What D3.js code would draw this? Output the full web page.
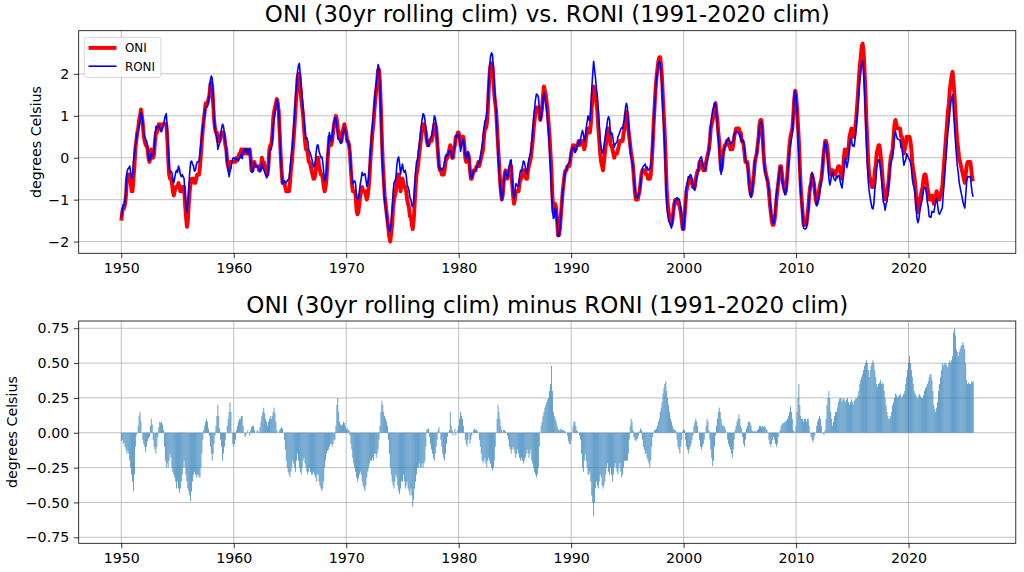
<!DOCTYPE html>
<html><head><meta charset="utf-8">
<script src="https://cdn.jsdelivr.net/npm/d3@7"></script>
<style>body{margin:0;background:#fff} svg text{font-family:"DejaVu Sans",sans-serif;fill:#000}</style>
</head><body><svg id="c" width="1024" height="572"></svg>
<script>
// ---------------- data ----------------
const startYear = 1950;           // first month: Jan 1950, monthly (3-month running) values
const topTitle = "ONI (30yr rolling clim) vs. RONI (1991-2020 clim)";
const bottomTitle = "ONI (30yr rolling clim) minus RONI (1991-2020 clim)";
const yLabel = "degrees Celsius";
const seriesNames = ["ONI", "RONI"];
const xTicks = [1950, 1960, 1970, 1980, 1990, 2000, 2010, 2020];
const yTicksTop = [-2, -1, 0, 1, 2];
const yTicksBottom = [-0.75, -0.5, -0.25, 0, 0.25, 0.5, 0.75];

// ONI (30yr rolling climatology), one row per year
const oni = [
-1.5,-1.3,-1.2,-1.2,-1.1,-0.9,-0.5,-0.4,-0.4,-0.4,-0.6,-0.8,
-0.8,-0.5,-0.2,0.2,0.4,0.6,0.7,0.9,1.0,1.15,1.0,0.8,
0.5,0.4,0.3,0.3,0.2,0.0,-0.1,0.0,0.2,0.1,0.0,0.1,
0.4,0.6,0.6,0.7,0.8,0.8,0.7,0.7,0.8,0.8,0.8,0.8,
0.8,0.5,0.0,-0.4,-0.5,-0.5,-0.6,-0.8,-0.9,-0.8,-0.7,-0.7,
-0.7,-0.6,-0.7,-0.8,-0.8,-0.7,-0.7,-0.7,-1.1,-1.4,-1.65,-1.5,
-1.1,-0.8,-0.6,-0.5,-0.5,-0.5,-0.6,-0.6,-0.5,-0.4,-0.4,-0.4,
-0.2,0.1,0.4,0.7,0.9,1.1,1.3,1.3,1.3,1.4,1.5,1.75,
1.8,1.7,1.3,0.9,0.7,0.6,0.6,0.4,0.4,0.4,0.5,0.6,
0.6,0.6,0.5,0.3,0.2,-0.1,-0.2,-0.3,-0.1,-0.1,-0.1,-0.1,
-0.1,-0.1,-0.1,0.0,0.0,0.0,0.1,0.1,0.2,0.1,0.2,0.2,
0.1,0.2,0.2,0.1,0.2,0.2,0.0,-0.3,-0.3,-0.2,-0.1,-0.2,
-0.2,-0.2,-0.2,-0.3,-0.3,-0.2,0.0,-0.1,-0.1,-0.2,-0.3,-0.4,
-0.4,-0.2,0.2,0.3,0.3,0.5,0.9,1.1,1.2,1.3,1.4,1.3,
1.1,0.6,0.1,-0.3,-0.6,-0.6,-0.6,-0.7,-0.8,-0.8,-0.8,-0.8,
-0.6,-0.3,-0.1,0.2,0.5,0.8,1.2,1.5,1.9,2.0,2.0,1.7,
1.4,1.2,1.0,0.7,0.4,0.2,0.2,0.1,-0.1,-0.1,-0.2,-0.3,
-0.4,-0.5,-0.5,-0.4,-0.2,0.0,0.0,-0.2,-0.3,-0.4,-0.4,-0.5,
-0.7,-0.8,-0.7,-0.5,-0.1,0.2,0.5,0.4,0.3,0.4,0.6,0.8,
0.9,1.0,0.9,0.7,0.6,0.5,0.4,0.4,0.6,0.7,0.8,0.7,
0.6,0.4,0.4,0.3,0.1,-0.3,-0.6,-0.8,-0.8,-0.8,-0.9,-1.25,
-1.35,-1.3,-1.1,-0.9,-0.8,-0.7,-0.8,-0.8,-0.8,-0.9,-1.0,-0.9,
-0.7,-0.4,0.0,0.3,0.6,0.8,1.1,1.4,1.6,1.8,2.1,2.1,
1.8,1.2,0.5,-0.1,-0.5,-0.9,-1.1,-1.3,-1.5,-1.7,-1.9,-2.0,
-1.8,-1.6,-1.2,-1.0,-0.9,-0.8,-0.5,-0.4,-0.4,-0.6,-0.8,-0.6,
-0.5,-0.6,-0.7,-0.7,-0.8,-1.0,-1.1,-1.2,-1.4,-1.4,-1.6,-1.7,
-1.5,-1.1,-0.7,-0.4,-0.3,-0.1,0.1,0.3,0.5,0.7,0.8,0.8,
0.7,0.6,0.4,0.3,0.3,0.4,0.4,0.4,0.5,0.6,0.8,0.8,
0.7,0.4,0.1,-0.2,-0.3,-0.3,-0.4,-0.4,-0.4,-0.3,-0.1,0.0,
0.0,0.1,0.2,0.3,0.2,0.0,0.0,0.2,0.3,0.5,0.5,0.6,
0.6,0.5,0.3,0.4,0.5,0.5,0.3,0.0,-0.1,0.0,0.1,0.0,
-0.3,-0.5,-0.5,-0.4,-0.3,-0.3,-0.3,-0.2,-0.2,-0.1,-0.2,-0.1,
0.0,0.1,0.2,0.5,0.7,0.7,0.8,1.1,1.6,2.0,2.2,2.25,
2.2,1.9,1.5,1.3,1.1,0.7,0.3,-0.1,-0.5,-0.8,-1.0,-0.9,
-0.6,-0.4,-0.3,-0.4,-0.5,-0.4,-0.3,-0.2,-0.2,-0.6,-0.9,-1.1,
-1.0,-0.8,-0.8,-0.8,-0.8,-0.6,-0.5,-0.5,-0.4,-0.3,-0.3,-0.4,
-0.5,-0.5,-0.3,-0.2,-0.1,0.0,0.2,0.4,0.7,0.9,1.1,1.2,
1.2,1.2,1.1,0.9,1.0,1.2,1.5,1.7,1.6,1.5,1.3,1.1,
0.8,0.5,0.1,-0.3,-0.9,-1.3,-1.3,-1.1,-1.2,-1.5,-1.85,-1.85,
-1.7,-1.4,-1.1,-0.8,-0.6,-0.4,-0.3,-0.3,-0.2,-0.2,-0.2,-0.1,
0.1,0.2,0.3,0.3,0.2,0.2,0.3,0.3,0.4,0.3,0.4,0.4,
0.4,0.3,0.2,0.3,0.5,0.6,0.7,0.6,0.6,0.8,1.2,1.5,
1.7,1.6,1.5,1.3,1.1,0.7,0.4,0.1,-0.1,-0.2,-0.3,-0.1,
0.1,0.3,0.5,0.7,0.7,0.6,0.3,0.3,0.2,0.1,0.0,0.1,
0.1,0.1,0.2,0.3,0.4,0.4,0.4,0.4,0.6,0.7,1.0,1.1,
1.0,0.7,0.5,0.3,0.1,0.0,-0.2,-0.5,-0.8,-1.0,-1.0,-1.0,
-0.9,-0.8,-0.6,-0.4,-0.3,-0.3,-0.3,-0.3,-0.4,-0.4,-0.5,-0.5,
-0.5,-0.4,-0.1,0.3,0.8,1.2,1.6,1.9,2.1,2.3,2.4,2.4,
2.2,1.9,1.4,1.0,0.5,-0.1,-0.8,-1.1,-1.3,-1.4,-1.5,-1.6,
-1.5,-1.3,-1.1,-1.0,-1.0,-1.0,-1.1,-1.1,-1.2,-1.3,-1.5,-1.7,
-1.7,-1.4,-1.1,-0.8,-0.7,-0.6,-0.6,-0.5,-0.5,-0.6,-0.7,-0.7,
-0.7,-0.5,-0.4,-0.3,-0.3,-0.1,-0.1,-0.1,-0.2,-0.3,-0.3,-0.3,
-0.1,0.0,0.1,0.2,0.4,0.7,0.8,0.9,1.0,1.2,1.3,1.1,
0.9,0.6,0.4,0.0,-0.3,-0.2,0.1,0.2,0.3,0.3,0.4,0.4,
0.4,0.3,0.2,0.2,0.2,0.3,0.5,0.6,0.7,0.7,0.7,0.7,
0.6,0.6,0.4,0.4,0.3,0.1,-0.1,-0.1,-0.1,-0.3,-0.6,-0.8,
-0.9,-0.8,-0.6,-0.4,-0.1,0.0,0.1,0.3,0.5,0.8,0.9,0.9,
0.7,0.2,-0.1,-0.3,-0.4,-0.5,-0.6,-0.8,-1.1,-1.3,-1.5,-1.6,
-1.6,-1.5,-1.3,-1.0,-0.8,-0.6,-0.4,-0.2,-0.2,-0.4,-0.6,-0.7,
-0.8,-0.8,-0.6,-0.3,0.0,0.3,0.5,0.6,0.7,1.0,1.4,1.6,
1.5,1.2,0.8,0.4,-0.2,-0.7,-1.0,-1.3,-1.6,-1.6,-1.6,-1.6,
-1.4,-1.2,-0.9,-0.7,-0.6,-0.4,-0.5,-0.6,-0.8,-1.0,-1.1,-1.0,
-0.9,-0.7,-0.6,-0.5,-0.3,0.0,0.2,0.4,0.4,0.3,0.1,-0.2,
-0.4,-0.4,-0.3,-0.3,-0.4,-0.4,-0.4,-0.3,-0.3,-0.2,-0.2,-0.3,
-0.4,-0.5,-0.3,0.0,0.2,0.2,0.0,0.1,0.2,0.5,0.6,0.7,
0.5,0.5,0.5,0.7,0.9,1.2,1.5,1.9,2.2,2.4,2.65,2.72,
2.55,2.1,1.6,0.9,0.4,-0.1,-0.4,-0.5,-0.6,-0.7,-0.7,-0.6,
-0.3,-0.2,0.1,0.2,0.3,0.3,0.1,-0.1,-0.4,-0.7,-0.8,-1.0,
-0.9,-0.9,-0.7,-0.5,-0.2,0.0,0.1,0.2,0.5,0.8,0.9,0.8,
0.7,0.7,0.7,0.7,0.5,0.5,0.3,0.1,0.2,0.3,0.5,0.5,
0.5,0.5,0.4,0.2,-0.1,-0.3,-0.4,-0.6,-0.9,-1.2,-1.3,-1.2,
-1.0,-0.9,-0.8,-0.7,-0.5,-0.4,-0.4,-0.5,-0.7,-0.8,-1.0,-1.0,
-1.0,-0.9,-1.0,-1.1,-1.0,-0.9,-0.8,-0.9,-1.0,-1.0,-0.9,-0.8,
-0.7,-0.4,-0.1,0.2,0.5,0.8,1.1,1.3,1.6,1.8,1.95,2.05,
1.8,1.5,1.1,0.7,0.4,0.2,0.0,-0.1,-0.2,-0.3,-0.4,-0.5,
-0.6,-0.4,-0.2,-0.1,-0.1,-0.1,-0.1,-0.3,-0.5,-0.56
];

// ONI minus RONI, one row per year
const diff = [
-0.06,-0.05,-0.08,-0.07,-0.10,-0.12,-0.15,-0.13,-0.15,-0.20,-0.25,-0.30,
-0.35,-0.42,-0.30,-0.10,-0.02,0.00,0.05,0.12,0.15,0.08,0.00,-0.05,
-0.08,-0.10,-0.14,-0.10,-0.06,-0.04,-0.03,0.05,0.10,0.06,-0.05,-0.10,
-0.12,-0.15,-0.10,-0.03,0.04,0.08,0.07,0.08,0.06,0.02,-0.10,-0.20,
-0.25,-0.22,-0.25,-0.20,-0.15,-0.18,-0.25,-0.28,-0.30,-0.32,-0.35,-0.40,
-0.35,-0.40,-0.43,-0.40,-0.35,-0.30,-0.25,-0.20,-0.25,-0.30,-0.35,-0.40,
-0.42,-0.45,-0.49,-0.42,-0.35,-0.30,-0.28,-0.30,-0.32,-0.30,-0.30,-0.32,
-0.32,-0.25,-0.15,-0.05,0.02,0.05,0.08,0.10,0.08,0.03,-0.02,-0.10,
-0.15,-0.20,-0.15,-0.08,-0.02,0.05,0.12,0.20,0.12,0.03,-0.05,-0.10,
-0.20,-0.15,-0.10,-0.05,0.00,0.05,0.10,0.15,0.22,0.15,0.00,-0.08,
-0.10,-0.08,-0.05,0.02,0.05,0.08,0.10,0.10,0.12,0.12,0.05,0.00,
-0.03,-0.02,0.00,0.02,0.00,-0.02,0.02,0.04,0.05,0.05,0.02,0.00,
0.00,0.02,0.01,0.00,0.04,0.08,0.12,0.15,0.18,0.14,0.10,0.08,
0.05,0.08,0.10,0.12,0.10,0.12,0.15,0.18,0.14,0.08,0.02,0.00,
0.00,0.02,0.03,0.04,0.03,0.00,-0.05,-0.12,-0.20,-0.25,-0.28,-0.30,
-0.32,-0.28,-0.25,-0.20,-0.22,-0.25,-0.28,-0.20,-0.15,-0.20,-0.25,-0.28,
-0.30,-0.25,-0.20,-0.18,-0.22,-0.25,-0.28,-0.30,-0.28,-0.25,-0.28,-0.30,
-0.30,-0.28,-0.30,-0.32,-0.35,-0.30,-0.30,-0.35,-0.38,-0.40,-0.42,-0.40,
-0.35,-0.25,-0.20,-0.15,-0.13,-0.12,-0.10,-0.08,-0.08,-0.10,-0.08,-0.05,
-0.05,0.05,0.20,0.25,0.15,0.08,0.06,0.05,0.06,0.08,0.07,0.05,
0.03,0.03,0.02,0.02,-0.02,-0.08,-0.12,-0.18,-0.22,-0.25,-0.28,-0.32,
-0.35,-0.33,-0.30,-0.28,-0.30,-0.35,-0.38,-0.40,-0.42,-0.38,-0.32,-0.28,
-0.25,-0.22,-0.20,-0.20,-0.18,-0.20,-0.15,-0.15,-0.18,-0.15,-0.12,-0.05,
0.05,0.15,0.23,0.20,0.15,0.12,0.10,0.08,0.05,-0.05,-0.15,-0.25,
-0.30,-0.35,-0.38,-0.40,-0.35,-0.30,-0.32,-0.38,-0.42,-0.44,-0.40,-0.35,
-0.35,-0.30,-0.35,-0.40,-0.38,-0.35,-0.40,-0.42,-0.45,-0.40,-0.45,-0.53,
-0.48,-0.40,-0.35,-0.30,-0.25,-0.25,-0.22,-0.25,-0.25,-0.22,-0.25,-0.22,
-0.20,-0.10,0.02,0.03,0.03,-0.03,-0.08,-0.12,-0.15,-0.18,-0.20,-0.15,
-0.10,-0.05,0.02,0.04,0.00,-0.05,-0.10,-0.15,-0.18,-0.20,-0.15,-0.08,
-0.03,0.00,0.02,0.15,0.05,0.02,-0.02,0.00,0.03,-0.02,0.00,0.02,
0.05,0.10,0.15,0.12,0.10,0.05,0.00,-0.05,-0.08,-0.10,-0.05,0.00,
-0.08,-0.05,-0.02,0.00,0.02,0.03,0.02,0.02,0.01,0.00,-0.05,-0.10,
-0.15,-0.20,-0.22,-0.20,-0.18,-0.22,-0.25,-0.20,-0.18,-0.20,-0.22,-0.25,
-0.27,-0.25,-0.20,-0.10,0.00,0.10,0.20,0.15,0.10,0.05,0.02,0.00,
0.02,0.02,0.01,0.00,-0.02,-0.05,-0.10,-0.12,-0.15,-0.12,-0.10,-0.12,
-0.15,-0.18,-0.15,-0.12,-0.15,-0.18,-0.20,-0.18,-0.20,-0.22,-0.20,-0.18,
-0.15,-0.12,-0.15,-0.18,-0.15,-0.12,-0.20,-0.22,-0.25,-0.28,-0.30,-0.32,
-0.30,-0.25,-0.10,0.00,0.05,0.08,0.12,0.15,0.18,0.20,0.22,0.24,
0.25,0.30,0.35,0.48,0.30,0.15,0.12,0.10,0.08,0.05,0.03,0.02,
0.02,0.03,0.02,0.02,0.02,0.01,0.01,0.00,-0.02,-0.06,-0.08,-0.08,
-0.05,0.00,0.05,0.08,0.08,0.05,0.02,0.01,0.00,-0.02,-0.05,-0.15,
-0.25,-0.28,-0.20,-0.15,-0.20,-0.25,-0.30,-0.30,-0.28,-0.35,-0.45,-0.50,
-0.60,-0.50,-0.40,-0.35,-0.38,-0.40,-0.35,-0.30,-0.32,-0.38,-0.40,-0.38,
-0.35,-0.30,-0.25,-0.22,-0.28,-0.30,-0.25,-0.30,-0.35,-0.30,-0.25,-0.22,
-0.25,-0.28,-0.30,-0.25,-0.22,-0.28,-0.32,-0.30,-0.25,-0.20,-0.20,-0.20,
-0.20,-0.15,-0.05,0.05,0.10,0.08,0.02,-0.03,-0.05,-0.06,-0.05,-0.04,
-0.02,0.01,0.03,0.02,-0.05,-0.10,-0.12,-0.15,-0.15,-0.18,-0.20,-0.22,
-0.25,-0.20,-0.10,-0.03,0.00,0.02,0.02,0.03,0.05,0.08,0.10,0.15,
0.18,0.22,0.28,0.32,0.35,0.37,0.30,0.25,0.20,0.15,0.10,0.08,
0.05,0.03,0.02,0.02,0.01,-0.05,-0.10,-0.12,-0.15,-0.10,-0.05,0.01,
0.02,0.02,-0.05,-0.10,-0.12,-0.15,-0.12,-0.10,-0.08,-0.05,-0.02,0.05,
0.08,0.10,0.08,0.05,0.00,-0.05,-0.10,-0.12,-0.10,-0.08,-0.05,0.00,
0.05,0.10,0.08,0.02,-0.05,-0.12,-0.18,-0.24,-0.20,-0.10,-0.02,0.05,
0.10,0.15,0.18,0.15,0.10,0.06,0.05,0.05,0.04,0.02,0.00,-0.05,
-0.08,-0.10,-0.12,-0.15,-0.18,-0.12,-0.05,0.02,0.05,0.08,0.10,0.13,
0.10,0.05,0.03,-0.03,-0.08,-0.10,-0.05,0.03,0.05,0.08,0.08,0.07,
0.05,0.02,0.01,0.01,0.01,0.01,0.01,0.02,0.03,0.05,0.05,0.04,
0.05,0.04,0.05,0.04,0.03,0.02,0.00,-0.05,-0.08,-0.10,-0.08,-0.05,
-0.03,-0.05,-0.08,-0.10,-0.08,-0.03,0.00,0.02,0.05,0.06,0.07,0.07,
0.08,0.08,0.09,0.10,0.12,0.15,0.19,0.15,0.10,0.02,0.01,0.00,
0.05,0.15,0.25,0.35,0.20,0.12,0.10,0.10,0.08,0.10,0.10,0.08,
0.10,0.10,0.05,0.00,-0.03,-0.05,-0.07,-0.05,-0.02,0.00,0.05,0.08,
0.10,0.12,0.10,0.05,0.00,-0.01,-0.01,0.02,0.10,0.20,0.25,0.30,
0.25,0.15,0.10,0.05,0.08,0.12,0.15,0.15,0.18,0.22,0.24,0.25,
0.25,0.22,0.24,0.25,0.23,0.22,0.24,0.25,0.22,0.20,0.22,0.24,
0.22,0.20,0.23,0.24,0.25,0.25,0.27,0.30,0.35,0.38,0.40,0.42,
0.45,0.48,0.50,0.52,0.50,0.45,0.40,0.45,0.48,0.50,0.52,0.50,
0.45,0.40,0.35,0.33,0.35,0.36,0.38,0.35,0.36,0.35,0.30,0.25,
0.20,0.15,0.12,0.10,0.10,0.12,0.15,0.20,0.22,0.25,0.28,0.27,
0.25,0.26,0.27,0.28,0.26,0.25,0.27,0.28,0.30,0.35,0.40,0.45,
0.50,0.55,0.50,0.45,0.40,0.35,0.30,0.28,0.27,0.25,0.25,0.27,
0.28,0.26,0.25,0.25,0.27,0.30,0.32,0.33,0.35,0.37,0.40,0.42,
0.42,0.38,0.30,0.20,0.17,0.15,0.18,0.22,0.30,0.35,0.40,0.45,
0.50,0.48,0.50,0.49,0.50,0.48,0.47,0.50,0.52,0.50,0.52,0.55,
0.72,0.75,0.70,0.60,0.58,0.55,0.58,0.60,0.62,0.63,0.65,0.63,
0.60,0.50,0.38,0.35,0.36,0.35,0.35,0.37,0.36,0.37
];

// ---------------- derived ----------------
const time = oni.map((_, i) => startYear + i / 12);
const roni = oni.map((v, i) => v - diff[i]);   // RONI = ONI - (ONI minus RONI)

// ---------------- layout ----------------
const svg = d3.select("#c");
svg.append("rect").attr("width", 1024).attr("height", 572).attr("fill", "#fff");
const L = 78.7, R = 1015.8;
const tExt = d3.extent(time), pad = (tExt[1] - tExt[0]) * 0.05;
const x = d3.scaleLinear().domain([tExt[0] - pad, tExt[1] + pad]).range([L, R]);

const panels = [
  {top: 30.7, bottom: 253.3, domain: [-2.28, 3.03], ticks: yTicksTop, fmt: d => (d < 0 ? "\u2212" : "") + Math.abs(d), title: topTitle, ylabX: 41},
  {top: 321, bottom: 543.3, domain: [-0.793, 0.802], ticks: yTicksBottom, fmt: d => (d < 0 ? "\u2212" : "") + Math.abs(d).toFixed(2), title: bottomTitle, ylabX: 17.3}
];
panels.forEach(p => { p.y = d3.scaleLinear().domain(p.domain).range([p.bottom, p.top]); });

function drawFrame(p, g) {
  g.append("g").selectAll("line").data(xTicks).join("line")
    .attr("x1", d => x(d)).attr("x2", d => x(d)).attr("y1", p.top).attr("y2", p.bottom)
    .attr("stroke", "#b0b0b0").attr("stroke-width", 0.8);
  g.append("g").selectAll("line").data(p.ticks).join("line")
    .attr("x1", L).attr("x2", R).attr("y1", d => p.y(d)).attr("y2", d => p.y(d))
    .attr("stroke", "#b0b0b0").attr("stroke-width", 0.8);
}
function drawAxes(p, g) {
  const ax = g.append("g").attr("transform", `translate(0,${p.bottom})`)
    .call(d3.axisBottom(x).tickValues(xTicks).tickFormat(d3.format("d")).tickSize(4.9).tickPadding(4.6));
  const ay = g.append("g").attr("transform", `translate(${L},0)`)
    .call(d3.axisLeft(p.y).tickValues(p.ticks).tickFormat(p.fmt).tickSize(4.9).tickPadding(4.6));
  [ax, ay].forEach(a => {
    a.select(".domain").remove();
    a.selectAll("line").attr("stroke", "#000").attr("stroke-width", 0.8);
    a.selectAll("text").style("font-family", '"DejaVu Sans", sans-serif').style("font-size", "14.2px").attr("fill", "#000");
  });
  g.append("rect").attr("x", L).attr("y", p.top).attr("width", R - L).attr("height", p.bottom - p.top)
    .attr("fill", "none").attr("stroke", "#000").attr("stroke-width", 0.8);
  g.append("text").attr("x", (L + R) / 2).attr("y", p.top - 8.3).attr("text-anchor", "middle")
    .style("font-size", "23px").text(p.title);
  g.append("text").attr("transform", `translate(${p.ylabX},${(p.top + p.bottom) / 2}) rotate(-90)`)
    .attr("text-anchor", "middle").style("font-size", "14.2px").text(yLabel);
}

// ---- top panel ----
const p1 = panels[0];
const g1 = svg.append("g");
drawFrame(p1, g1);
svg.append("clipPath").attr("id", "clip1").append("rect")
  .attr("x", L).attr("y", p1.top).attr("width", R - L).attr("height", p1.bottom - p1.top);
const line1 = d3.line().x((d, i) => x(time[i])).y(d => p1.y(d));
g1.append("path").datum(oni).attr("d", line1).attr("fill", "none").attr("stroke", "#ff0000")
  .attr("stroke-width", 3.9).attr("stroke-linejoin", "round").attr("stroke-linecap", "butt").attr("clip-path", "url(#clip1)");
g1.append("path").datum(roni).attr("d", line1).attr("fill", "none").attr("stroke", "#0000ff")
  .attr("stroke-width", 1.6).attr("stroke-linejoin", "round").attr("clip-path", "url(#clip1)");
drawAxes(p1, g1);

// legend
const lg = g1.append("g");
lg.append("rect").attr("x", 84.3).attr("y", 37.3).attr("width", 76.7).attr("height", 40).attr("rx", 3)
  .attr("fill", "#fff").attr("fill-opacity", 0.8).attr("stroke", "#cccccc").attr("stroke-width", 0.8);
const legendItems = [{name: seriesNames[0], color: "#ff0000", w: 3.9, y: 47.9}, {name: seriesNames[1], color: "#0000ff", w: 1.6, y: 66.2}];
legendItems.forEach(it => {
  lg.append("line").attr("x1", 88.5).attr("x2", 116.5).attr("y1", it.y).attr("y2", it.y)
    .attr("stroke", it.color).attr("stroke-width", it.w);
  lg.append("text").attr("x", 125).attr("y", it.y + 4.3).style("font-size", "11.9px").text(it.name);
});

// ---- bottom panel ----
const p2 = panels[1];
const g2 = svg.append("g");
drawFrame(p2, g2);
const bw = x(startYear + 1 / 12) - x(startYear);
g2.append("g").selectAll("rect").data(diff).join("rect")
  .attr("x", (d, i) => x(time[i]) - bw * 0.45)
  .attr("width", bw * 0.9)
  .attr("y", d => p2.y(Math.max(0, d)))
  .attr("height", d => Math.abs(p2.y(d) - p2.y(0)))
  .attr("fill", "#2f7fb8").attr("fill-opacity", 0.85);
drawAxes(p2, g2);
</script></body></html>
